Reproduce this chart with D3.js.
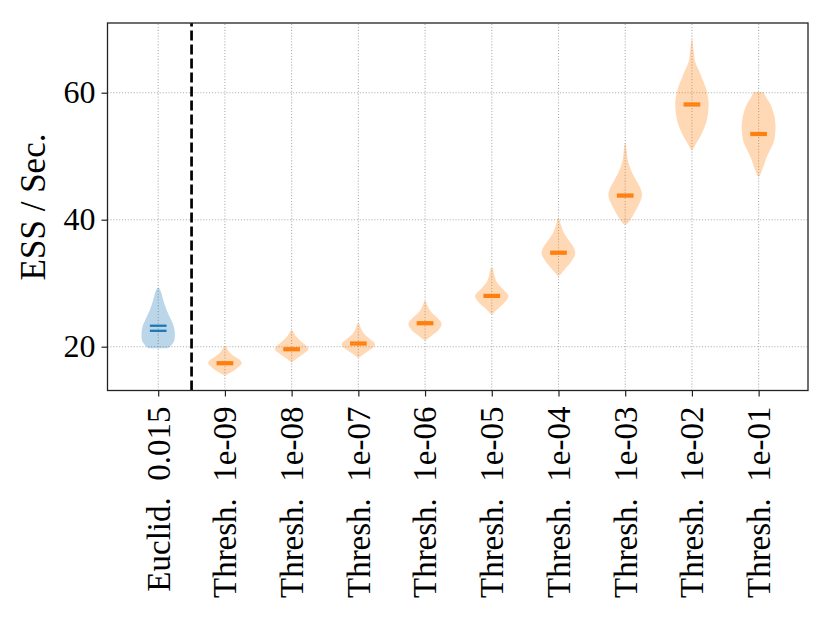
<!DOCTYPE html>
<html>
<head>
<meta charset="utf-8">
<script src="https://cdn.jsdelivr.net/npm/d3@7"></script>
<style>
  body { margin: 0; background: #fff; }
  svg { display: block; }
  text { font-family: "Liberation Serif", "DejaVu Serif", serif; fill: #000; }
</style>
</head>
<body>
<svg id="chart" width="830" height="623"></svg>
<script>
// categories along x
var labels = ['Euclid.\u00a0\u00a00.015', 'Thresh.\u00a0\u00a01e-09', 'Thresh.\u00a0\u00a01e-08',
              'Thresh.\u00a0\u00a01e-07', 'Thresh.\u00a0\u00a01e-06', 'Thresh.\u00a0\u00a01e-05',
              'Thresh.\u00a0\u00a01e-04', 'Thresh.\u00a0\u00a01e-03', 'Thresh.\u00a0\u00a01e-02',
              'Thresh.\u00a0\u00a01e-01'];
var groups = ['euclid', 'thresh', 'thresh', 'thresh', 'thresh', 'thresh', 'thresh', 'thresh', 'thresh', 'thresh'];

var means   = [23.3, 17.55, 19.75, 20.65, 23.85, 28.15, 34.95, 43.95, 58.3, 53.65];
var medians = [22.5, 17.25, 19.45, 20.35, 23.55, 27.85, 34.65, 43.65, 58.0, 53.35];

// violin outlines: [value, relative half width]
var profiles = [
  [[19.75, 0.55], [20.0, 0.7], [20.75, 0.93], [21.6, 1.0], [23.15, 0.94], [24.5, 0.72], [25.8, 0.5], [27.35, 0.3], [28.6, 0.17], [29.3, 0.05]],
  [[15.5, 0.05], [16.0, 0.4], [16.65, 0.75], [17.3, 1.0], [17.75, 0.95], [18.4, 0.6], [19.2, 0.25], [20.1, 0.05]],
  [[17.6, 0.05], [18.2, 0.35], [18.85, 0.7], [19.5, 1.0], [19.95, 0.95], [20.75, 0.6], [21.7, 0.25], [22.6, 0.05]],
  [[18.3, 0.05], [19.15, 0.5], [19.8, 0.85], [20.4, 1.0], [21.2, 0.7], [22.0, 0.35], [22.95, 0.15], [23.7, 0.05]],
  [[21.05, 0.05], [21.85, 0.45], [22.6, 0.8], [23.6, 1.0], [24.5, 0.75], [25.5, 0.35], [26.4, 0.15], [27.2, 0.05]],
  [[25.15, 0.05], [25.95, 0.35], [26.9, 0.75], [28.0, 1.0], [29.25, 0.6], [30.2, 0.3], [31.3, 0.15], [32.35, 0.08]],
  [[31.2, 0.05], [32.25, 0.4], [33.35, 0.75], [34.6, 1.0], [35.7, 0.9], [36.8, 0.6], [38.05, 0.3], [39.15, 0.15], [40.2, 0.05]],
  [[39.3, 0.1], [39.95, 0.3], [41.05, 0.55], [42.3, 0.8], [43.7, 1.0], [44.7, 0.95], [46.25, 0.65], [47.8, 0.35], [49.4, 0.15], [51.0, 0.08], [52.1, 0.03]],
  [[51.0, 0.05], [51.5, 0.15], [53.1, 0.5], [54.2, 0.7], [55.75, 0.9], [58.1, 1.0], [59.35, 0.96], [60.9, 0.82], [62.3, 0.6], [63.6, 0.4], [64.85, 0.2], [66.25, 0.12], [68.4, 0.03]],
  [[46.8, 0.05], [48.3, 0.28], [49.4, 0.42], [50.5, 0.6], [52.2, 0.9], [53.8, 1.0], [55.35, 1.0], [56.95, 0.88], [58.35, 0.68], [59.3, 0.45], [60.1, 0.3]]
];

var yTicks = [20, 40, 60];
var splitAt = 0.5;

var colors = {euclid: '#1f77b4', thresh: '#ff7f0e'};
var violinWidth = 0.5;

var margin = {left: 107.5, top: 23, right: 22, bottom: 232.5};
var W = 830, H = 623;

var svg = d3.select('#chart');

var x = d3.scaleLinear()
          .domain([-0.76, 9.74])
          .range([margin.left, W - margin.right]);
var y = d3.scaleLinear()
          .domain([13.1, 70.98])
          .range([H - margin.bottom, margin.top]);

var idx = d3.range(labels.length);

// grid
var grid = svg.append('g').attr('class', 'grid')
              .style('stroke', '#b0b0b0')
              .style('stroke-width', 1.1)
              .style('stroke-dasharray', '1.1 1.8');
grid.selectAll('.gx').data(idx).enter().append('line')
    .attr('x1', function(d){ return x(d); }).attr('x2', function(d){ return x(d); })
    .attr('y1', y.range()[0]).attr('y2', y.range()[1]);
grid.selectAll('.gy').data(yTicks).enter().append('line')
    .attr('y1', function(d){ return y(d); }).attr('y2', function(d){ return y(d); })
    .attr('x1', x.range()[0]).attr('x2', x.range()[1]);

// violins
var halfPx = (x(1) - x(0)) * violinWidth / 2;
var area = d3.area()
             .curve(d3.curveCatmullRom)
             .y(function(d){ return y(d[0]); });

idx.forEach(function(i){
  var cx = x(i);
  area.x0(function(d){ return cx - d[1] * halfPx; })
      .x1(function(d){ return cx + d[1] * halfPx; });
  svg.append('path')
     .attr('class', 'violin')
     .attr('d', area(profiles[i]))
     .style('fill', colors[groups[i]])
     .style('fill-opacity', 0.3)
     .style('stroke', 'none');

  [means[i], medians[i]].forEach(function(v){
    svg.append('line')
       .attr('x1', cx - halfPx / 2).attr('x2', cx + halfPx / 2)
       .attr('y1', y(v)).attr('y2', y(v))
       .style('stroke', colors[groups[i]])
       .style('stroke-width', 2.3);
  });
});

// split line
svg.append('line')
   .attr('x1', x(splitAt)).attr('x2', x(splitAt))
   .attr('y1', y.range()[0]).attr('y2', y.range()[1])
   .style('stroke', '#000')
   .style('stroke-width', 2.7)
   .style('stroke-dasharray', '10 4');

// axes
var xAxis = d3.axisBottom(x).tickValues(idx).tickSize(6).tickPadding(8)
              .tickFormat(function(d){ return labels[d]; });
var gx = svg.append('g')
            .attr('transform', 'translate(0,' + y.range()[0] + ')')
            .call(xAxis);
gx.selectAll('text')
  .style('font-size', '33px')
  .attr('text-anchor', 'end')
  .attr('transform', 'rotate(-90)')
  .attr('x', -16)
  .attr('y', 0)
  .attr('dy', '0.33em');

var yAxis = d3.axisLeft(y).tickValues(yTicks).tickSize(6).tickPadding(6);
var gy = svg.append('g')
            .attr('transform', 'translate(' + x.range()[0] + ',0)')
            .call(yAxis);
gy.selectAll('text').style('font-size', '32px');

svg.selectAll('.domain').remove();
svg.selectAll('.tick line').style('stroke', '#222').style('stroke-width', 1.2);

svg.append('rect')
   .attr('x', x.range()[0]).attr('y', y.range()[1])
   .attr('width', x.range()[1] - x.range()[0])
   .attr('height', y.range()[0] - y.range()[1])
   .style('fill', 'none')
   .style('stroke', '#222')
   .style('stroke-width', 1.3);

// y label
svg.append('text')
   .attr('transform', 'translate(45,207) rotate(-90)')
   .attr('text-anchor', 'middle')
   .style('font-size', '35px')
   .text('ESS\u00a0/\u00a0Sec.');
</script>
</body>
</html>
